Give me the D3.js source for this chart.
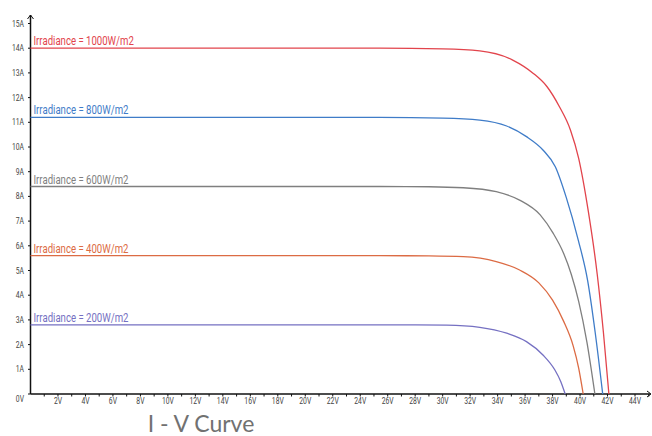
<!DOCTYPE html>
<html><head><meta charset="utf-8">
<script src="https://cdn.jsdelivr.net/npm/d3@7"></script>
<style>
html,body{margin:0;padding:0;background:#fff;}
svg{display:block;}
</style></head>
<body>
<script>
// ---- data ----
const seriesNames = ["Irradiance = 1000W/m2","Irradiance = 800W/m2","Irradiance = 600W/m2","Irradiance = 400W/m2","Irradiance = 200W/m2"];
const seriesColors = ["#e2444c","#3f7cc8","#7f7f7f","#dc6b44","#7570c2"];
const v1000 = [0, 10, 20, 25.4, 30, 32.7, 35.1, 36.6, 37.6, 38.5, 39.3, 39.9, 40.6, 41.25, 41.7, 42.1];
const i1000 = [14.0, 14.0, 14.0, 14.0, 13.97, 13.89, 13.52, 12.98, 12.44, 11.63, 10.69, 9.54, 7.4, 4.85, 2.5, 0];
const v800 = [0, 10, 20, 25.4, 30, 32.7, 34.66, 36.1, 37.3, 38.2, 39.0, 39.87, 40.55, 41.1, 41.65];
const i800 = [11.2, 11.2, 11.2, 11.2, 11.17, 11.09, 10.85, 10.42, 9.88, 9.2, 7.95, 6.23, 4.6, 2.5, 0];
const v600 = [0, 10, 20, 25.4, 29, 31.5, 33.9, 35.6, 37.1, 38.05, 38.8, 39.36, 39.9, 40.5, 41.08];
const i600 = [8.4, 8.4, 8.4, 8.4, 8.39, 8.35, 8.19, 7.85, 7.25, 6.5, 5.7, 4.85, 3.75, 2.1, 0];
const v400 = [0, 10, 20, 25.4, 29, 31.5, 33.9, 35.6, 37.0, 38.0, 38.8, 39.5, 39.9, 40.23];
const i400 = [5.6, 5.6, 5.6, 5.6, 5.59, 5.56, 5.36, 5.02, 4.5, 3.8, 2.95, 1.95, 1.05, 0];
const v200 = [0, 10, 20, 25.4, 28, 30.3, 32.7, 34.66, 36.1, 37.3, 38.17, 38.6, 38.92];
const i200 = [2.8, 2.8, 2.8, 2.8, 2.8, 2.79, 2.7, 2.46, 2.12, 1.58, 0.97, 0.5, 0];
const yTickValues = [0,1,2,3,4,5,6,7,8,9,10,11,12,13,14,15];
const yTickLabels = ["0V","1A","2A","3A","4A","5A","6A","7A","8A","9A","10A","11A","12A","13A","14A","15A"];
const xTickValues = [2,4,6,8,10,12,14,16,18,20,22,24,26,28,30,32,34,36,38,40,42,44];
const xTickLabels = xTickValues.map(v => v + "V");
const titleText = "I - V Curve";

const series = [[v1000,i1000],[v800,i800],[v600,i600],[v400,i400],[v200,i200]].map((p,k)=>({
  name: seriesNames[k], color: seriesColors[k],
  pts: p[0].map((v,j)=>[v,p[1][j]])
}));

// ---- layout ----
const W = 652, H = 436;
const svg = d3.select("body").append("svg").attr("width",W).attr("height",H);
const x = d3.scaleLinear().domain([0,44]).range([30.5, 635]);
const y = d3.scaleLinear().domain([0,15]).range([394, 23.5]);
const FONT = "Roboto, 'Liberation Sans', sans-serif";
const SX = 0.8;

function ctext(g, px, py, str, size, color, anchor){
  return g.append("text")
    .attr("transform",`translate(${px},${py}) scale(${SX},1)`)
    .attr("font-family",FONT).attr("font-size",size).attr("fill",color)
    .attr("text-anchor",anchor||"start").text(str);
}

// axes
const ax = svg.append("g");
ax.append("line").attr("x1",x(0)).attr("x2",650).attr("y1",y(0)).attr("y2",y(0)).attr("stroke","#111").attr("stroke-width",1.5);
ax.append("line").attr("x1",x(0)).attr("x2",x(0)).attr("y1",y(0)).attr("y2",15).attr("stroke","#111").attr("stroke-width",1.5);
ax.append("path").attr("d",`M${x(0)-3},19 L${x(0)},15 L${x(0)+3},19`).attr("fill","none").attr("stroke","#111").attr("stroke-width",1);
ax.append("path").attr("d",`M647,${y(0)-3} L651,${y(0)} L647,${y(0)+3}`).attr("fill","none").attr("stroke","#111").attr("stroke-width",1);

const xMinor = d3.range(1,46);
ax.selectAll(".xt").data(xMinor).enter().append("line")
  .attr("x1",d=>x(d)).attr("x2",d=>x(d)).attr("y1",y(0)).attr("y2",y(0)+2.5)
  .attr("stroke","#111").attr("stroke-width",1);
xTickValues.forEach((d,i)=> ctext(ax, x(d), y(0)+10, xTickLabels[i], 8.5, "#444", "middle"));

ax.selectAll(".yt").data(yTickValues).enter().append("line")
  .attr("x1",x(0)-2.5).attr("x2",x(0)).attr("y1",d=>y(d)).attr("y2",d=>y(d))
  .attr("stroke","#111").attr("stroke-width",1);
yTickValues.forEach((d,i)=> ctext(ax, 24, y(d)+(d===0?8:3), yTickLabels[i], 8.5, "#444", "end"));

// curves
const lineGen = d3.line().x(d=>x(d[0])).y(d=>y(d[1])).curve(d3.curveMonotoneX);
series.forEach(s=>{
  svg.append("path").attr("d",lineGen(s.pts)).attr("fill","none")
    .attr("stroke",s.color).attr("stroke-width",1.3);
  ctext(svg, x(0)+3, y(s.pts[0][1])-3, s.name, 12, s.color, "start");
});

// title
svg.append("text").attr("x",201).attr("y",431.5).attr("text-anchor","middle")
  .attr("font-family","Lato, sans-serif").attr("font-size",23).attr("fill","#717171")
  .text(titleText);
</script>
</body></html>
